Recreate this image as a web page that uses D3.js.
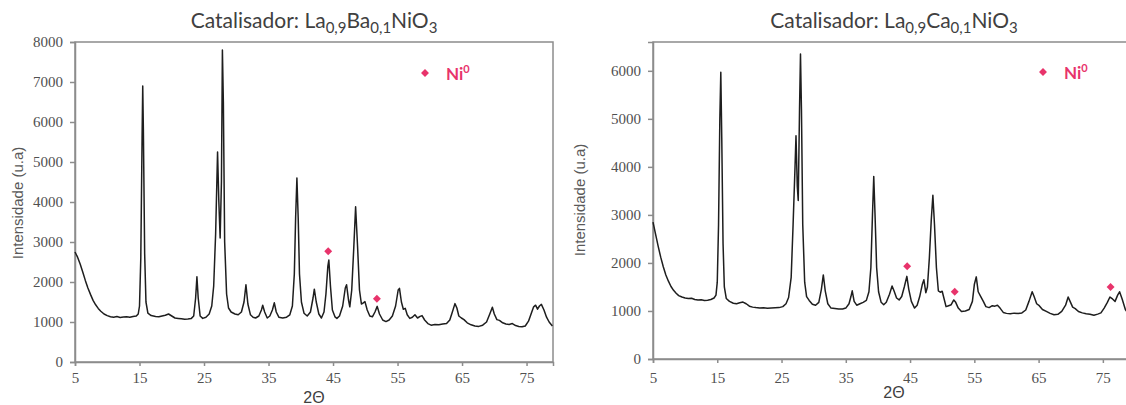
<!DOCTYPE html>
<html>
<head>
<meta charset="utf-8">
<script src="https://cdn.jsdelivr.net/npm/d3@7"></script>
<style>
  body { margin: 0; background: #fff; }
  svg { display: block; }
</style>
</head>
<body>
<svg width="1126" height="405"></svg>
<script>
var xTicks = [5, 15, 25, 35, 45, 55, 65, 75];
var baYTicks = [0, 1000, 2000, 3000, 4000, 5000, 6000, 7000, 8000];
var caYTicks = [0, 1000, 2000, 3000, 4000, 5000, 6000];

var baPattern = [
  [5.0, 2750], [5.4, 2620], [5.8, 2450], [6.2, 2250], [6.6, 2040], [7.0, 1850], [7.4, 1690],
  [7.8, 1540], [8.2, 1430], [8.6, 1340], [9.0, 1270], [9.5, 1200], [10.0, 1160], [10.5, 1130],
  [11.0, 1120], [11.5, 1135], [12.0, 1115], [12.5, 1125], [13.0, 1130], [13.5, 1120], [14.0, 1135],
  [14.5, 1150], [14.8, 1200], [15.0, 1400], [15.2, 2600], [15.4, 5600], [15.5, 6900], [15.6, 5800],
  [15.8, 2700], [16.0, 1500], [16.3, 1220], [16.8, 1160], [17.5, 1140], [18.0, 1130], [18.5, 1150],
  [19.0, 1170], [19.5, 1200], [20.0, 1150], [20.5, 1100], [21.0, 1090], [21.5, 1080], [22.0, 1070],
  [22.5, 1075], [23.0, 1085], [23.4, 1150], [23.7, 1600], [23.9, 2130], [24.1, 1600], [24.4, 1150],
  [24.8, 1090], [25.3, 1120], [25.8, 1200], [26.2, 1400], [26.5, 1900], [26.8, 3200], [27.1, 5250],
  [27.3, 4000], [27.5, 3100], [27.7, 4500], [27.85, 7800], [28.0, 6500], [28.2, 3000], [28.5, 1700],
  [28.8, 1350], [29.2, 1250], [29.8, 1200], [30.3, 1180], [30.8, 1250], [31.2, 1500], [31.5, 1930],
  [31.8, 1450], [32.2, 1180], [32.6, 1120], [33.0, 1100], [33.5, 1150], [33.9, 1300], [34.1, 1420],
  [34.4, 1250], [34.8, 1100], [35.2, 1150], [35.6, 1300], [35.9, 1480], [36.2, 1250], [36.6, 1120],
  [37.2, 1100], [37.8, 1120], [38.3, 1180], [38.7, 1400], [39.0, 2200], [39.2, 3600], [39.4, 4600],
  [39.6, 3600], [39.8, 2200], [40.1, 1500], [40.5, 1220], [41.0, 1150], [41.5, 1250], [41.9, 1600],
  [42.1, 1820], [42.4, 1500], [42.8, 1200], [43.2, 1100], [43.6, 1250], [43.9, 1700], [44.2, 2400],
  [44.35, 2550], [44.6, 1900], [44.9, 1300], [45.3, 1130], [45.6, 1090], [46.0, 1150], [46.5, 1400],
  [46.9, 1850], [47.1, 1930], [47.4, 1550], [47.6, 1380], [47.9, 1800], [48.2, 2800], [48.5, 3880],
  [48.8, 2900], [49.1, 1800], [49.4, 1450], [49.7, 1480], [49.95, 1510], [50.3, 1300], [50.7, 1150],
  [51.1, 1130], [51.5, 1250], [51.85, 1390], [52.2, 1200], [52.7, 1050], [53.2, 1010], [53.7, 1050],
  [54.2, 1150], [54.7, 1400], [55.1, 1800], [55.3, 1840], [55.6, 1500], [55.9, 1320], [56.2, 1340],
  [56.5, 1180], [56.9, 1090], [57.3, 1120], [57.7, 1180], [58.1, 1100], [58.5, 1140], [58.8, 1160],
  [59.2, 1050], [59.7, 960], [60.2, 920], [60.8, 940], [61.4, 930], [62.0, 950], [62.6, 960],
  [63.1, 1050], [63.5, 1250], [63.9, 1460], [64.2, 1350], [64.5, 1150], [64.9, 1100], [65.3, 1060],
  [65.8, 980], [66.4, 930], [67.0, 900], [67.6, 890], [68.2, 920], [68.8, 1000], [69.3, 1200],
  [69.7, 1370], [70.0, 1200], [70.4, 1060], [70.8, 1040], [71.3, 980], [71.8, 950], [72.3, 940],
  [72.8, 960], [73.3, 910], [73.8, 890], [74.3, 880], [74.8, 900], [75.3, 1020], [75.7, 1200],
  [76.1, 1380], [76.4, 1420], [76.7, 1320], [77.0, 1400], [77.3, 1440], [77.7, 1300], [78.1, 1120],
  [78.5, 1000], [79.0, 900]
];

var caPattern = [
  [5.0, 2850], [5.4, 2600], [5.8, 2350], [6.2, 2120], [6.6, 1920], [7.0, 1750], [7.4, 1620],
  [7.8, 1510], [8.2, 1430], [8.6, 1370], [9.0, 1320], [9.5, 1290], [10.0, 1270], [10.5, 1260],
  [11.0, 1265], [11.5, 1240], [12.0, 1230], [12.5, 1235], [13.0, 1220], [13.5, 1225], [14.0, 1240],
  [14.5, 1270], [14.8, 1330], [15.0, 1600], [15.2, 2800], [15.4, 5000], [15.55, 5970], [15.7, 4600],
  [15.9, 2400], [16.1, 1500], [16.4, 1260], [16.9, 1200], [17.5, 1160], [18.0, 1150], [18.5, 1170],
  [19.0, 1185], [19.5, 1150], [20.0, 1100], [20.5, 1080], [21.0, 1070], [21.6, 1060], [22.2, 1065],
  [22.8, 1055], [23.4, 1060], [24.0, 1065], [24.6, 1070], [25.2, 1090], [25.7, 1150], [26.1, 1280],
  [26.5, 1700], [26.8, 2800], [27.1, 4000], [27.25, 4650], [27.45, 3600], [27.6, 3300], [27.8, 5200],
  [27.95, 6350], [28.1, 5200], [28.3, 2800], [28.6, 1600], [28.9, 1300], [29.3, 1220], [29.8, 1140],
  [30.3, 1120], [30.8, 1180], [31.2, 1450], [31.5, 1750], [31.8, 1420], [32.2, 1150], [32.7, 1060],
  [33.3, 1050], [33.9, 1040], [34.5, 1040], [35.0, 1060], [35.5, 1150], [35.8, 1300], [36.0, 1420],
  [36.3, 1200], [36.7, 1120], [37.2, 1150], [37.7, 1180], [38.2, 1220], [38.6, 1400], [38.9, 1900],
  [39.15, 3000], [39.35, 3800], [39.55, 3000], [39.8, 1900], [40.1, 1400], [40.5, 1180], [40.9, 1130],
  [41.3, 1180], [41.8, 1350], [42.2, 1520], [42.5, 1420], [42.9, 1270], [43.3, 1230], [43.7, 1300],
  [44.1, 1500], [44.5, 1720], [44.8, 1450], [45.2, 1200], [45.7, 1060], [46.1, 1120], [46.5, 1300],
  [46.9, 1550], [47.15, 1650], [47.45, 1380], [47.7, 1500], [48.0, 2100], [48.3, 2900], [48.55, 3410],
  [48.8, 2800], [49.1, 1900], [49.4, 1420], [49.7, 1390], [50.0, 1410], [50.3, 1250], [50.6, 1090],
  [51.0, 1110], [51.4, 1130], [51.8, 1230], [52.1, 1180], [52.5, 1060], [53.0, 990], [53.6, 1000],
  [54.2, 1030], [54.7, 1200], [55.0, 1550], [55.3, 1710], [55.6, 1400], [56.0, 1300], [56.4, 1200],
  [56.8, 1090], [57.3, 1070], [57.8, 1110], [58.2, 1100], [58.6, 1120], [59.0, 1060], [59.5, 970],
  [60.0, 950], [60.6, 940], [61.2, 955], [61.8, 945], [62.4, 960], [63.0, 1020], [63.5, 1200],
  [64.0, 1400], [64.3, 1300], [64.7, 1150], [65.1, 1110], [65.6, 1030], [66.2, 990], [66.8, 950],
  [67.4, 920], [68.0, 930], [68.6, 990], [69.2, 1120], [69.6, 1290], [69.9, 1200], [70.3, 1080],
  [70.7, 1050], [71.2, 990], [71.8, 960], [72.4, 940], [73.0, 930], [73.6, 910], [74.2, 935],
  [74.7, 960], [75.2, 1060], [75.7, 1180], [76.1, 1290], [76.5, 1250], [76.9, 1200], [77.3, 1330],
  [77.6, 1400], [78.0, 1250], [78.5, 1030], [79.0, 930], [79.5, 880], [80.0, 860]
];

// Ni0 marker positions (2theta, intensity)
var baNiMarks = [[44.25, 2770], [51.8, 1580]];
var caNiMarks = [[44.55, 1930], [51.95, 1400], [76.2, 1500]];

var baTitle = [["Catalisador: La", 0], ["0,9", 1], ["Ba", 0], ["0,1", 1], ["NiO", 0], ["3", 1]];
var caTitle = [["Catalisador: La", 0], ["0,9", 1], ["Ca", 0], ["0,1", 1], ["NiO", 0], ["3", 1]];

var niColor = "#e8336b";
var niSymbol = d3.symbol().type(d3.symbolDiamond2 || d3.symbolSquare).size(40);
var tickFont = "'Liberation Serif', 'DejaVu Serif', serif";

function styleAxis(sel) {
    sel.attr("font-family", tickFont).attr("font-size", 15);
    sel.selectAll(".domain, .tick line")
        .attr("stroke", "#8c8c8c")
        .attr("stroke-width", 1.5);
    sel.selectAll(".tick text")
        .style("font-family", tickFont)
        .style("font-size", "15px")
        .attr("fill", "#505050");
}

function drawPanel(svg, p) {
    var x = d3.scaleLinear().domain([5, p.xMax]).range([p.left, p.right]);
    var y = d3.scaleLinear().domain([0, p.yMax]).range([p.bottom, p.top]);
    var g = svg.append("g");

    // plot area frame
    g.append("rect")
        .attr("x", p.left).attr("y", p.top)
        .attr("width", p.right - p.left).attr("height", p.bottom - p.top)
        .attr("fill", "none").attr("stroke", "#8c8c8c").attr("stroke-width", 1.5);

    g.append("g")
        .attr("transform", "translate(" + p.left + ",0)")
        .call(d3.axisLeft(y).tickValues(p.yTicks).tickFormat(d3.format("d")).tickSize(5).tickPadding(7))
        .call(styleAxis);

    g.append("g")
        .attr("transform", "translate(0," + p.bottom + ")")
        .call(d3.axisBottom(x).tickValues(xTicks).tickFormat(d3.format("d")).tickSize(4).tickPadding(p.xPad))
        .call(styleAxis);

    var line = d3.line()
        .x(function(d) { return x(d[0]); })
        .y(function(d) { return y(d[1]); });

    g.append("path")
        .datum(p.data)
        .attr("d", line)
        .attr("fill", "none")
        .attr("stroke", "#1e1e1e")
        .attr("stroke-width", 1.5)
        .attr("stroke-linejoin", "round");

    g.selectAll(".ni")
        .data(p.marks)
      .enter().append("path")
        .attr("class", "ni")
        .attr("transform", function(d) { return "translate(" + x(d[0]) + "," + y(d[1]) + ")"; })
        .attr("d", niSymbol)
        .attr("fill", niColor);

    // title with subscripts
    var t = g.append("text")
        .attr("x", (p.left + p.right) / 2).attr("y", 28)
        .attr("text-anchor", "middle")
        .style("font-family", "Lato, 'Open Sans', sans-serif")
        .style("font-size", "21px")
        .attr("fill", "#404040");
    var shifted = false;
    p.title.forEach(function(part) {
        var s = t.append("tspan").text(part[0]);
        if (part[1]) {
            s.attr("font-size", "15px").attr("dy", shifted ? 0 : 5);
            shifted = true;
        } else if (shifted) {
            s.attr("dy", -5);
            shifted = false;
        }
    });

    // axis titles
    g.append("text")
        .attr("transform", "translate(" + p.yTitleX + "," + p.yTitleY + ") rotate(-90)")
        .attr("text-anchor", "middle")
        .attr("dy", "0.35em")
        .style("font-family", "'Liberation Sans', Arial, sans-serif")
        .style("font-size", "15px")
        .attr("fill", "#595959")
        .text("Intensidade (u.a)");

    g.append("text")
        .attr("x", (p.left + p.right) / 2).attr("y", p.xTitleY)
        .attr("text-anchor", "middle")
        .style("font-family", "'Liberation Sans', Arial, sans-serif")
        .style("font-size", "16px")
        .attr("fill", "#404040")
        .text("2\u0398");

    // legend
    g.append("path")
        .attr("transform", "translate(" + p.legendX + "," + p.legendY + ")")
        .attr("d", niSymbol)
        .attr("fill", niColor);
    var lt = g.append("text")
        .attr("x", p.legendX + 21).attr("y", p.legendY + 7)
        .style("font-family", "Lato, 'Open Sans', sans-serif")
        .style("font-size", "17px")
        .style("font-weight", "bold")
        .attr("fill", niColor);
    lt.append("tspan").text("Ni");
    lt.append("tspan").text("0").attr("font-size", "11px").attr("dy", -7);
}

var svg = d3.select("svg");

drawPanel(svg, {
    left: 75, right: 553, top: 42, bottom: 362,
    xMax: 79.1, yMax: 8000, yTicks: baYTicks, xPad: 6,
    data: baPattern, marks: baNiMarks, title: baTitle,
    yTitleX: 18, yTitleY: 203, xTitleY: 403, legendX: 425, legendY: 73
});

drawPanel(svg, {
    left: 653, right: 1135, top: 42, bottom: 359,
    xMax: 80, yMax: 6600, yTicks: caYTicks, xPad: 9,
    data: caPattern, marks: caNiMarks, title: caTitle,
    yTitleX: 580, yTitleY: 200, xTitleY: 398, legendX: 1043, legendY: 72
});
</script>
</body>
</html>
